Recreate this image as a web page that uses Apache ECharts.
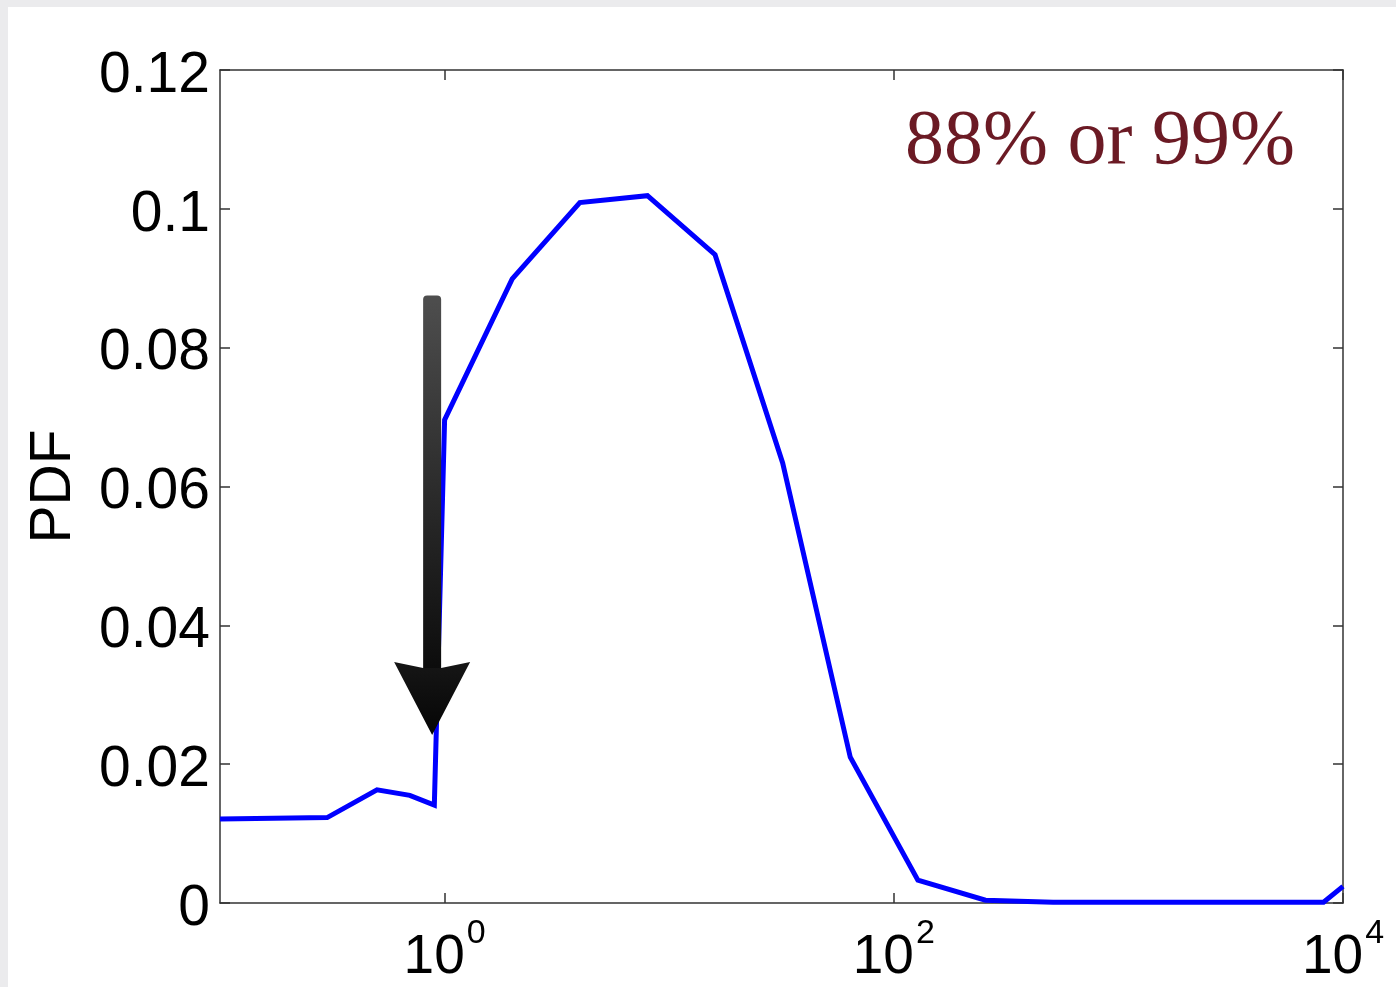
<!DOCTYPE html>
<html>
<head>
<meta charset="utf-8">
<script src="https://cdn.jsdelivr.net/npm/echarts@6/dist/echarts.min.js"></script>
<style>
  html, body { margin: 0; padding: 0; background: #ebebed; width: 1396px; height: 987px; overflow: hidden; }
  #chart { position: absolute; left: 8px; top: 7px; width: 1388px; height: 980px; background: #ffffff; }
</style>
</head>
<body>
<div id="chart"></div>
<script>
// ---- data ----
const xValues = [0.1, 0.3, 0.5, 0.7, 0.9, 1.0, 2, 4, 8, 16, 32, 64, 128, 256, 512, 1024, 2048, 4096, 8192, 10000];
const pdfValues = [0.0121, 0.0123, 0.0163, 0.0155, 0.0141, 0.0696, 0.0899, 0.1009, 0.1019, 0.0934, 0.0634, 0.0210, 0.0033, 0.0004, 0.0001, 0.0001, 0.0001, 0.0001, 0.0001, 0.0024];
const xTickValues = [1, 100, 10000];
const yMin = 0, yMax = 0.12, yStep = 0.02;
const yAxisName = 'PDF';
const annotationText = '88% or 99%';
// arrow annotation in data coordinates
const arrowX = 0.88;
const arrowTopY = 0.0875;
const arrowHeadBaseY = 0.0347;
const arrowTipY = 0.0242;

const chart = echarts.init(document.getElementById('chart'), null, { renderer: 'canvas' });
const FONT = 'Liberation Sans, Arial, Helvetica, sans-serif';
const AXIS_COLOR = '#333333';

const seriesData = xValues.map((x, i) => [x, pdfValues[i]]);

function expLabel(v) {
  const e = Math.round(Math.log10(v));
  return '{b|10}{s|' + e + '}';
}

const xCommon = {
  type: 'log',
  logBase: 10,
  min: 0.1,
  max: 10000,
  splitLine: { show: false },
  axisLine: { show: true, onZero: false, lineStyle: { color: AXIS_COLOR, width: 1.5 } },
  axisTick: { show: true, inside: true, length: 10, customValues: xTickValues, lineStyle: { color: AXIS_COLOR, width: 1.5 } },
  minorTick: { show: false }
};
const yCommon = {
  type: 'value',
  min: yMin,
  max: yMax,
  interval: yStep,
  splitLine: { show: false },
  axisLine: { show: true, lineStyle: { color: AXIS_COLOR, width: 1.5 } },
  axisTick: { show: true, inside: true, length: 10, lineStyle: { color: AXIS_COLOR, width: 1.5 } }
};

const option = {
  animation: false,
  backgroundColor: '#ffffff',
  grid: { left: 212, right: 53, top: 63, bottom: 84, containLabel: false },
  xAxis: [
    Object.assign({}, xCommon, {
      position: 'bottom',
      axisLabel: {
        show: true,
        customValues: xTickValues,
        margin: 14,
        formatter: expLabel,
        rich: {
          b: { fontFamily: FONT, fontSize: 55, color: '#000', lineHeight: 68, verticalAlign: 'bottom' },
          s: { fontFamily: FONT, fontSize: 34, color: '#000', lineHeight: 68, verticalAlign: 'top', padding: [0, 0, 0, 2] }
        }
      }
    }),
    Object.assign({}, xCommon, {
      position: 'top',
      axisLabel: { show: false }
    })
  ],
  yAxis: [
    Object.assign({}, yCommon, {
      position: 'left',
      name: yAxisName,
      nameLocation: 'middle',
      nameGap: 137,
      nameRotate: 90,
      nameTextStyle: { fontFamily: FONT, fontSize: 57, color: '#000' },
      axisLabel: { show: true, margin: 10, fontFamily: FONT, fontSize: 57, color: '#000', verticalAlign: 'top', lineHeight: 12 }
    }),
    Object.assign({}, yCommon, {
      position: 'right',
      axisLabel: { show: false }
    })
  ],
  series: [{
    type: 'line',
    data: seriesData,
    xAxisIndex: 0,
    yAxisIndex: 0,
    showSymbol: false,
    symbol: 'none',
    clip: true,
    lineStyle: { color: '#0000ff', width: 5, join: 'miter' }
  }]
};

chart.setOption(option);

// annotations positioned from data coordinates
const pTop = chart.convertToPixel({ xAxisIndex: 0, yAxisIndex: 0 }, [arrowX, arrowTopY]);
const pBase = chart.convertToPixel({ xAxisIndex: 0, yAxisIndex: 0 }, [arrowX, arrowHeadBaseY]);
const pTip = chart.convertToPixel({ xAxisIndex: 0, yAxisIndex: 0 }, [arrowX, arrowTipY]);
const cx = pTop[0];
const shaftW = 18;
const headHalf = 38;
const grad = new echarts.graphic.LinearGradient(0, 0, 0, 1, [
  { offset: 0, color: '#4e4e4e' },
  { offset: 1, color: '#0c0c0c' }
]);
const headGrad = new echarts.graphic.LinearGradient(0, 0, 0, 1, [
  { offset: 0, color: '#161616' },
  { offset: 1, color: '#050505' }
]);

chart.setOption({
  graphic: [
    {
      type: 'rect',
      z: 100,
      shape: { x: cx - shaftW / 2, y: pTop[1], width: shaftW, height: pBase[1] - pTop[1] + 8, r: [4, 4, 0, 0] },
      style: { fill: grad }
    },
    {
      type: 'polygon',
      z: 101,
      shape: {
        points: [
          [cx - shaftW / 2, pBase[1] + 6],
          [cx - headHalf, pBase[1]],
          [cx, pTip[1]],
          [cx + headHalf, pBase[1]],
          [cx + shaftW / 2, pBase[1] + 6]
        ]
      },
      style: { fill: headGrad }
    },
    {
      type: 'text',
      z: 100,
      left: 897,
      top: 97,
      style: {
        text: annotationText,
        fontFamily: 'Liberation Serif, Times New Roman, serif',
        fontSize: 78,
        fill: '#6b1a24'
      }
    }
  ]
});
</script>
</body>
</html>
